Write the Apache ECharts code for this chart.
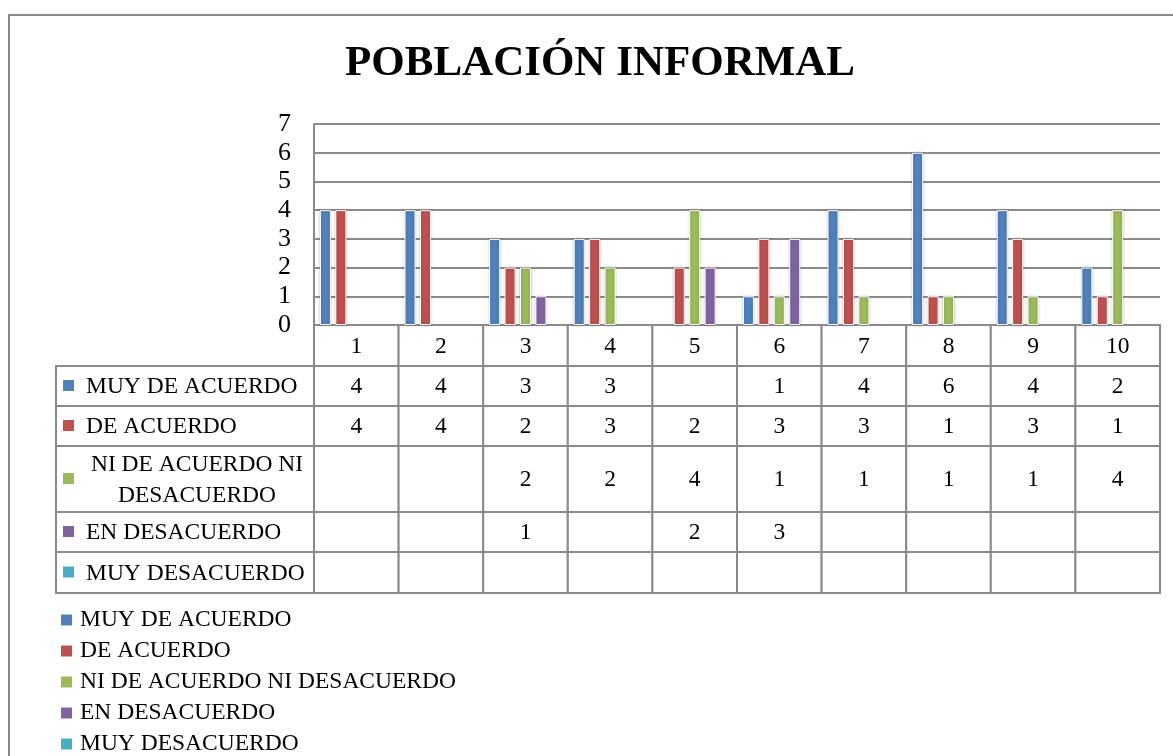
<!DOCTYPE html>
<html>
<head>
<meta charset="utf-8">
<title>POBLACIÓN INFORMAL</title>
<script src="https://cdn.jsdelivr.net/npm/echarts@6/dist/echarts.min.js"></script>
<style>
  html, body { margin: 0; padding: 0; background: #fff; }
  #chart { width: 1173px; height: 756px; }
</style>
</head>
<body>
<div id="chart"></div>
<script>
// datos
const categories = ['1', '2', '3', '4', '5', '6', '7', '8', '9', '10'];
const seriesNames = ['MUY DE ACUERDO', 'DE ACUERDO', 'NI DE ACUERDO NI DESACUERDO', 'EN DESACUERDO', 'MUY DESACUERDO'];
const tableLabels = ['MUY DE ACUERDO', 'DE ACUERDO', 'NI DE ACUERDO NI\nDESACUERDO', 'EN DESACUERDO', 'MUY DESACUERDO'];
const muyDeAcuerdo = [4, 4, 3, 3, null, 1, 4, 6, 4, 2];
const deAcuerdo = [4, 4, 2, 3, 2, 3, 3, 1, 3, 1];
const niDeAcuerdo = [null, null, 2, 2, 4, 1, 1, 1, 1, 4];
const enDesacuerdo = [null, null, 1, null, 2, 3, null, null, null, null];
const muyDesacuerdo = [null, null, null, null, null, null, null, null, null, null];
const yTicks = [0, 1, 2, 3, 4, 5, 6, 7];

const seriesData = [muyDeAcuerdo, deAcuerdo, niDeAcuerdo, enDesacuerdo, muyDesacuerdo];
const colors = ['#4F81BD', '#C0504D', '#9BBB59', '#8064A2', '#4BACC6'];

// tabla de datos (alto de filas en px, ancho de la columna de rótulos)
const rowHeights = [41, 40, 40, 66, 40, 41];
const rowTops = [];
rowHeights.reduce((acc, h) => { rowTops.push(acc); return acc + h; }, 0);
const tableHeight = rowHeights.reduce((a, b) => a + b, 0);
const labelColWidth = 258;
const lineColor = '#8a8a8a';
const fontFamily = 'Liberation Serif';
const tableFont = '23.5px "' + fontFamily + '"';

let myChart = echarts.init(document.getElementById('chart'));

// celdas: [columna, fila, tipo] tipo 0 = valor, 1 = rótulo
let cells = [];
for (let r = 0; r < rowHeights.length; r++) {
  if (r > 0) cells.push([0, r, 1]);
  for (let c = 0; c < categories.length; c++) cells.push([c, r, 0]);
}

function renderCell(params, api) {
  const c = api.value(0), r = api.value(1), kind = api.value(2);
  const catW = api.size([1, 0])[0];
  const cx = api.coord([c, 0])[0];
  const y0 = api.coord([0, rowTops[r]])[1];
  const y1 = api.coord([0, rowTops[r] + rowHeights[r]])[1];
  const cy = (y0 + y1) / 2;
  let x0, x1;
  if (kind === 1) {
    x1 = cx - catW / 2;
    x0 = x1 - labelColWidth;
  } else {
    x0 = cx - catW / 2;
    x1 = cx + catW / 2;
  }
  const children = [{
    type: 'rect',
    shape: { x: x0, y: y0, width: x1 - x0, height: y1 - y0 },
    style: { fill: '#fff', stroke: lineColor, lineWidth: 2 }
  }];
  if (kind === 1) {
    const label = tableLabels[r - 1];
    const multi = label.indexOf('\n') >= 0;
    children.push({
      type: 'rect',
      shape: { x: x0 + 7, y: cy - 6, width: 11, height: 11 },
      style: { fill: colors[r - 1] }
    });
    children.push({
      type: 'text',
      style: {
        x: multi ? (x0 + 30 + x1 - 6) / 2 : x0 + 30,
        y: cy + 1,
        text: label,
        fill: '#000',
        font: tableFont,
        align: multi ? 'center' : 'left',
        verticalAlign: 'middle',
        lineHeight: 31
      }
    });
  } else {
    const v = r === 0 ? categories[c] : seriesData[r - 1][c];
    if (v !== null && v !== undefined) {
      children.push({
        type: 'text',
        style: {
          x: cx, y: cy + 1, text: String(v), fill: '#000',
          font: tableFont,
          align: 'center', verticalAlign: 'middle'
        }
      });
    }
  }
  return { type: 'group', children: children };
}

let barSeries = seriesNames.map((name, i) => ({
  name: name,
  type: 'bar',
  xAxisIndex: 0,
  yAxisIndex: 0,
  data: seriesData[i],
  barCategoryGap: '14%',
  barGap: '40%',
  itemStyle: {
    color: colors[i],
    borderColor: '#fff',
    borderWidth: 1,
    shadowColor: 'rgba(0,0,0,0.25)',
    shadowBlur: 3
  }
}));

let option = {
  animation: false,
  color: colors,
  title: {
    text: 'POBLACIÓN INFORMAL',
    left: 345,
    top: 42,
    padding: 0,
    textStyle: {
      fontFamily: fontFamily,
      fontWeight: 'bold',
      fontSize: 43,
      color: '#000'
    }
  },
  legend: {
    data: seriesNames,
    orient: 'vertical',
    left: 61,
    top: 608,
    height: 160,
    padding: 0,
    icon: 'rect',
    itemWidth: 11,
    itemHeight: 11,
    itemGap: 7,
    itemStyle: { borderWidth: 0, shadowBlur: 0 },
    textStyle: { fontFamily: fontFamily, fontSize: 23.5, color: '#000', padding: [0, 0, 0, 3] }
  },
  graphic: [{
    type: 'rect',
    shape: { x: 9, y: 15, width: 1250, height: 800 },
    style: { fill: null, stroke: '#8a8a8a', lineWidth: 2 },
    silent: true
  }],
  grid: [
    { left: 314, right: 13, top: 124, height: 201 },
    { left: 314, right: 13, top: 325, height: tableHeight }
  ],
  xAxis: [
    {
      type: 'category',
      gridIndex: 0,
      data: categories,
      axisLine: { show: true, lineStyle: { color: lineColor, width: 2 } },
      axisTick: { show: false },
      axisLabel: { show: false }
    },
    {
      type: 'category',
      gridIndex: 1,
      data: categories,
      show: false
    }
  ],
  yAxis: [
    {
      type: 'value',
      gridIndex: 0,
      min: yTicks[0],
      max: yTicks[yTicks.length - 1],
      interval: 1,
      axisLine: { show: true, lineStyle: { color: lineColor, width: 2 } },
      axisTick: { show: false },
      axisLabel: { color: '#000', fontFamily: fontFamily, fontSize: 26, margin: 23 },
      splitLine: { lineStyle: { color: lineColor, width: 2 } }
    },
    {
      type: 'value',
      gridIndex: 1,
      min: 0,
      max: tableHeight,
      inverse: true,
      show: false
    }
  ],
  series: barSeries.concat([{
    type: 'custom',
    name: 'tabla',
    xAxisIndex: 1,
    yAxisIndex: 1,
    silent: true,
    clip: false,
    data: cells,
    renderItem: renderCell
  }])
};

window.onresize = myChart.resize;
myChart.setOption(option);
</script>
</body>
</html>
